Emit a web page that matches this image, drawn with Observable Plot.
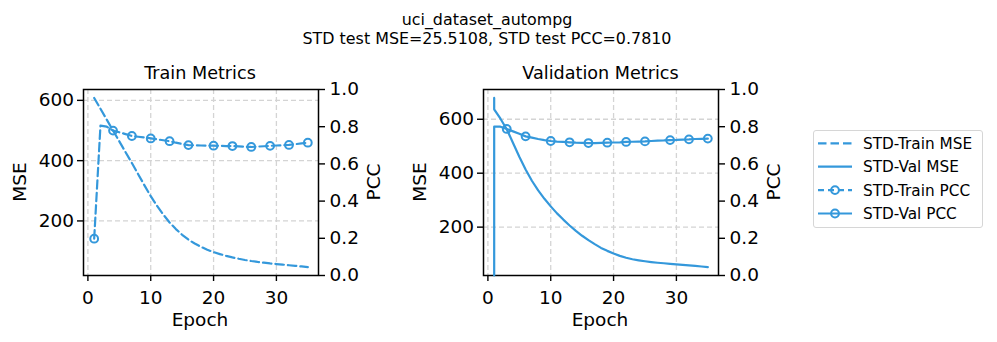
<!DOCTYPE html>
<html><head><meta charset="utf-8">
<script src="https://cdn.jsdelivr.net/npm/d3@7"></script>
<script src="https://cdn.jsdelivr.net/npm/@observablehq/plot@0.6"></script>
<style>
body{margin:0;background:#fff;}
#root{position:relative;width:997px;height:342px;font-family:"DejaVu Sans",sans-serif;color:#000;overflow:hidden;background:#fff;}
.t{position:absolute;white-space:nowrap;line-height:1;transform:translate(-50%,-50%);}
.r{transform:translate(-50%,-50%) rotate(-90deg);}
.p{position:absolute;top:0;}
</style></head><body><div id="root"></div>
<script>
// ---- data ----
const suptitle1 = "uci_dataset_autompg";
const suptitle2 = "STD test MSE=25.5108, STD test PCC=0.7810";
const panelTitles = ["Train Metrics", "Validation Metrics"];
const legendLabels = ["STD-Train MSE", "STD-Val MSE", "STD-Train PCC", "STD-Val PCC"];

const trainEpochs = d3.range(1, 36);
const trainMSE = [608,572,536,500,464,428,392,355,318,282,250,221,195,173,154,138,125,114,104.5,96.5,90,84,79,74.5,70.5,67,64,61.5,59,57,55,53,51,49,47];
const trainPCC = [0.198,0.806,0.800,0.779,0.770,0.760,0.750,0.746,0.742,0.737,0.732,0.727,0.722,0.714,0.707,0.701,0.700,0.699,0.698,0.698,0.697,0.696,0.696,0.694,0.692,0.691,0.693,0.695,0.697,0.699,0.700,0.702,0.706,0.710,0.714];
const trainMarkerEpochs = [1,4,7,10,13,16,20,23,26,29,32,35];

const valEpochs = [1,1,2,3,4,5,6,7,8,9,10,11,12,13,14,15,16,17,18,19,20,21,22,23,24,25,26,27,28,29,30,31,32,33,34,35];
const valMSE = [679,637,602,563,512,461,414,372,336,305,277,251,228,206,186,168,152,137,123,112,102,93.5,86.5,81,77,73.5,70.5,68,66,64,62,60,58,56,54,52];
const valPCC = [0,0.80,0.80,0.788,0.775,0.762,0.748,0.741,0.734,0.728,0.723,0.720,0.718,0.716,0.714,0.713,0.712,0.712,0.713,0.714,0.715,0.716,0.718,0.719,0.720,0.721,0.723,0.725,0.726,0.728,0.729,0.731,0.732,0.734,0.735,0.736];
const valMarkerEpochs = [3,6,10,13,16,19,22,25,29,32,35];

const xTicks = [0,10,20,30];
const mseTicks = [200,400,600];
const pccTicks = [0,0.2,0.4,0.6,0.8,1.0];

// ---- style ----
const BLUE = "#3498db";
const LW = 2.2, DASH = "8.5,4";
const root = document.getElementById("root");
function txt(s, x, y, size, rot){
  const d = document.createElement("div");
  d.className = "t" + (rot ? " r" : "");
  d.textContent = s;
  d.style.left = x + "px"; d.style.top = y + "px"; d.style.fontSize = size + "px";
  root.appendChild(d);
}
const pad = ([a,b]) => [a - 0.05*(b-a), b + 0.05*(b-a)];
const rows = (ep, vals) => ep.map((e,i)=>({epoch:e, v:vals[i]}));

function panel(offset, ep, mse, pcc, markers, dash){
  const base = {width:400, height:342, marginLeft:83, marginRight:82, marginTop:89, marginBottom:67,
    style:{fontSize:"18.5px", fontFamily:"DejaVu Sans", background:"transparent", color:"#000", overflow:"visible"}};
  const xDomain = pad([d3.min(trainEpochs.concat(valEpochs)), d3.max(trainEpochs.concat(valEpochs))]);
  const mseData = rows(ep, mse), pccData = rows(ep, pcc);
  const grid = {stroke:"#d4d4d4", strokeOpacity:1, strokeWidth:1.3, strokeDasharray:"5,3"};
  const p1 = Plot.plot({...base,
    x:{domain:xDomain}, y:{domain:pad(d3.extent(mse))},
    marks:[
      Plot.gridX(xTicks, grid),
      Plot.gridY(mseTicks, grid),
      Plot.line(mseData, {x:"epoch", y:"v", stroke:BLUE, strokeWidth:LW, strokeDasharray:dash ? DASH : null}),
      Plot.axisX(xTicks, {tickSize:6, tickPadding:9, label:null, strokeWidth:1.4}),
      Plot.axisY(mseTicks, {tickSize:6, tickPadding:3.5, label:null, strokeWidth:1.4}),
      Plot.frame({stroke:"#000", strokeWidth:1.5})
    ]});
  const p2 = Plot.plot({...base,
    x:{domain:xDomain, axis:null}, y:{domain:[0,1]},
    marks:[
      Plot.line(pccData, {x:"epoch", y:"v", stroke:BLUE, strokeWidth:LW, strokeDasharray:dash ? DASH : null}),
      Plot.dot(pccData.filter(d=>markers.includes(d.epoch)), {x:"epoch", y:"v", r:3.9, stroke:BLUE, strokeWidth:2, fill:"none"}),
      Plot.axisY(pccTicks, {anchor:"right", tickSize:6, tickPadding:5, label:null, tickFormat:d3.format(".1f"), strokeWidth:1.4})
    ]});
  for (const p of [p1,p2]) { p.classList.add("p"); p.style.left = offset + "px"; root.appendChild(p); }
}

panel(0, trainEpochs, trainMSE, trainPCC, trainMarkerEpochs, true);
panel(400, valEpochs, valMSE, valPCC, valMarkerEpochs, false);

// text
txt(suptitle1, 487, 20, 15.9);
txt(suptitle2, 487, 38.5, 15.9);
txt(panelTitles[0], 200, 73.5, 17.6);
txt(panelTitles[1], 600.5, 73.5, 17.6);
txt("Epoch", 200, 319.5, 18.5);
txt("Epoch", 600, 319.5, 18.5);
txt("MSE", 20, 182, 18.5, true);
txt("MSE", 420, 182, 18.5, true);
txt("PCC", 373.5, 182, 18.5, true);
txt("PCC", 773.5, 182, 18.5, true);

// legend
const lg = document.createElement("div");
lg.style.cssText = "position:absolute;left:812.5px;top:130px;width:170px;height:98px;border:1px solid #d6d6d6;border-radius:3px;box-sizing:border-box;background:#fff;";
root.appendChild(lg);
const ns = "http://www.w3.org/2000/svg";
const lsvg = document.createElementNS(ns, "svg");
lsvg.setAttribute("width", 997); lsvg.setAttribute("height", 342);
lsvg.style.cssText = "position:absolute;left:0;top:0;pointer-events:none;";
root.appendChild(lsvg);
legendLabels.forEach((lab, i) => {
  const y = 143.3 + i*23.4;
  const dashed = i % 2 === 0;
  const l = document.createElementNS(ns, "line");
  l.setAttribute("x1", 818); l.setAttribute("x2", 852); l.setAttribute("y1", y); l.setAttribute("y2", y);
  l.setAttribute("stroke", BLUE); l.setAttribute("stroke-width", LW);
  if (dashed) l.setAttribute("stroke-dasharray", i === 0 ? "8.5,4" : "6,4");
  lsvg.appendChild(l);
  if (i >= 2) {
    const c = document.createElementNS(ns, "circle");
    c.setAttribute("cx", 835); c.setAttribute("cy", y); c.setAttribute("r", 3.9);
    c.setAttribute("fill", "none"); c.setAttribute("stroke", BLUE); c.setAttribute("stroke-width", 2);
    lsvg.appendChild(c);
  }
  const t = document.createElementNS(ns, "text");
  t.setAttribute("x", 863); t.setAttribute("y", y); t.setAttribute("dy", "0.36em");
  t.setAttribute("font-family", "DejaVu Sans"); t.setAttribute("font-size", 15.3);
  t.textContent = lab;
  lsvg.appendChild(t);
});
</script></body></html>
